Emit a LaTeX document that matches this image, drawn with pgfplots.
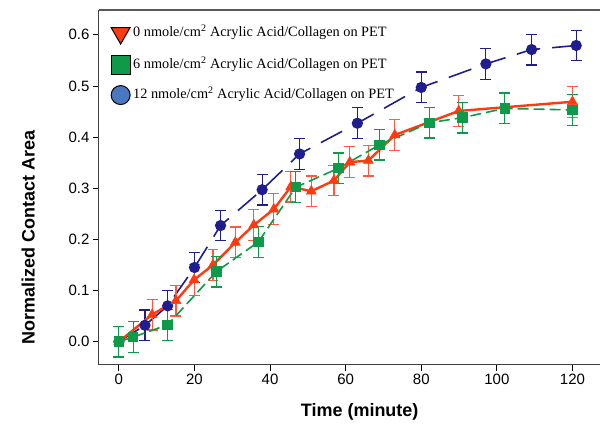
\documentclass[border=0pt]{standalone}
\usepackage{fontspec}
\setmainfont{Liberation Serif}
\setsansfont{Liberation Sans}
\usepackage{pgfplots}
\usepackage{pgfplotstable}
\pgfplotsset{compat=1.18}
\definecolor{cred}{HTML}{FF3A10}
\definecolor{credbar}{HTML}{FF5A40}
\definecolor{cgreen}{HTML}{0E9A48}
\definecolor{cblue}{HTML}{1E1E8E}
\definecolor{clegblue}{HTML}{4A78C0}
\pgfplotstableread{
t v e
0 0 0.03
8.8 0.053 0.03
15.1 0.080 0.03
19.9 0.121 0.03
24.9 0.150 0.03
30.8 0.194 0.03
35.7 0.228 0.03
41.0 0.259 0.03
45.5 0.303 0.03
50.9 0.294 0.03
56.9 0.315 0.03
61.1 0.351 0.03
66.0 0.354 0.03
73.0 0.404 0.03
89.9 0.451 0.03
120 0.469 0.03
}\redtab
\pgfplotstableread{
t v e
0 0 0.03
3.8 0.009 0.03
12.9 0.033 0.03
25.8 0.137 0.03
36.9 0.195 0.03
46.8 0.302 0.03
58.1 0.339 0.03
69.0 0.385 0.03
82.2 0.428 0.03
90.9 0.438 0.03
102.1 0.456 0.03
120 0.453 0.03
}\greentab
\pgfplotstableread{
t v e
0 0 0.03
6.9 0.032 0.03
12.9 0.070 0.03
20.0 0.145 0.03
26.9 0.227 0.03
37.9 0.297 0.03
47.8 0.367 0.03
63.1 0.427 0.03
80.0 0.497 0.03
97.1 0.543 0.03
109.2 0.571 0.03
121.0 0.579 0.03
}\bluetab
\begin{document}
\begin{tikzpicture}
\begin{axis}[name=ax, scale only axis, width=502pt, height=355pt,
  xmin=-5.29, xmax=127.4, ymin=-0.0449, ymax=0.6484,
  axis lines=left, axis line style={-, black!75, line width=1pt},
  tick align=outside, major tick length=6pt, tick style={black, line width=0.8pt},
  xtick={0,20,...,120}, ytick={0,0.1,0.2,0.3,0.4,0.5,0.6},
  y tick label style={/pgf/number format/.cd, fixed, fixed zerofill, precision=1},
  /pgf/number format/assume math mode=true,
  ticklabel style={font=\sffamily\fontsize{15}{15}\selectfont},
  xlabel={Time (minute)}, ylabel={Normalized Contact Area},
  label style={font=\sffamily\bfseries\fontsize{18}{18}\selectfont},
  x label style={at={(axis description cs:0.52,-0.132)}, anchor=center},
  y label style={at={(axis description cs:-0.141,0.359)}, anchor=center},
  clip=false,
  legend cell align=left,
  legend image code/.code={\draw[#1] plot coordinates {(0pt,0pt)};},
  legend style={at={(axis description cs:0.018,0.968)}, anchor=north west, draw=none, fill=none,
    font=\fontsize{14.3}{16}\selectfont, row sep=11.3pt,
    nodes={inner sep=3pt, text height=10pt, text depth=3pt},
    /tikz/every even column/.append style={column sep=7pt}},
]
\addlegendimage{only marks, mark=triangle*, mark size=11pt, mark options={rotate=180, fill=cred, draw=black, line width=1pt}}
\addlegendentry{0 nmole/cm\textsuperscript{2} Acrylic Acid/Collagen on PET}
\addlegendimage{only marks, mark=square*, mark size=9.5pt, mark options={fill=cgreen, draw=black, line width=1pt}}
\addlegendentry{6 nmole/cm\textsuperscript{2} Acrylic Acid/Collagen on PET}
\addlegendimage{only marks, mark=*, mark size=9.5pt, mark options={fill=clegblue, draw=black, line width=1pt}}
\addlegendentry{12 nmole/cm\textsuperscript{2} Acrylic Acid/Collagen on PET}

\draw[black!65, line width=1.2pt] (rel axis cs:0,1) -- (rel axis cs:1,1);

\addplot[forget plot, cblue, line width=1.6pt, dash pattern=on 24pt off 12pt,
  mark=*, mark size=4.8pt, mark options={solid, fill=cblue, draw=cblue},
  error bars/.cd, y dir=both, y explicit,
  error bar style={solid, line width=1.2pt, draw=cblue},
  error mark options={solid, rotate=90, mark size=5.5pt, line width=1.2pt, draw=cblue}]
  table[x=t, y=v, y error=e] {\bluetab};
\addplot[forget plot, cred, line width=2.4pt,
  mark=triangle*, mark size=5.8pt, mark options={solid, fill=cred, draw=cred, line width=0.5pt},
  error bars/.cd, y dir=both, y explicit,
  error bar style={solid, line width=1.2pt, draw=credbar},
  error mark options={solid, rotate=90, mark size=5.5pt, line width=1.2pt, draw=credbar}]
  table[x=t, y=v, y error=e] {\redtab};
\addplot[forget plot, cgreen, line width=1.6pt, dash pattern=on 11pt off 5pt,
  mark=square*, mark size=4.4pt, mark options={solid, fill=cgreen, draw=cgreen},
  error bars/.cd, y dir=both, y explicit,
  error bar style={solid, line width=1.2pt, draw=cgreen},
  error mark options={solid, rotate=90, mark size=5.5pt, line width=1.2pt, draw=cgreen}]
  table[x=t, y=v, y error=e] {\greentab};
\end{axis}
\path (ax.south west) ++(-99pt,-61pt) rectangle ([yshift=10pt]ax.north east);
\end{tikzpicture}
\end{document}
